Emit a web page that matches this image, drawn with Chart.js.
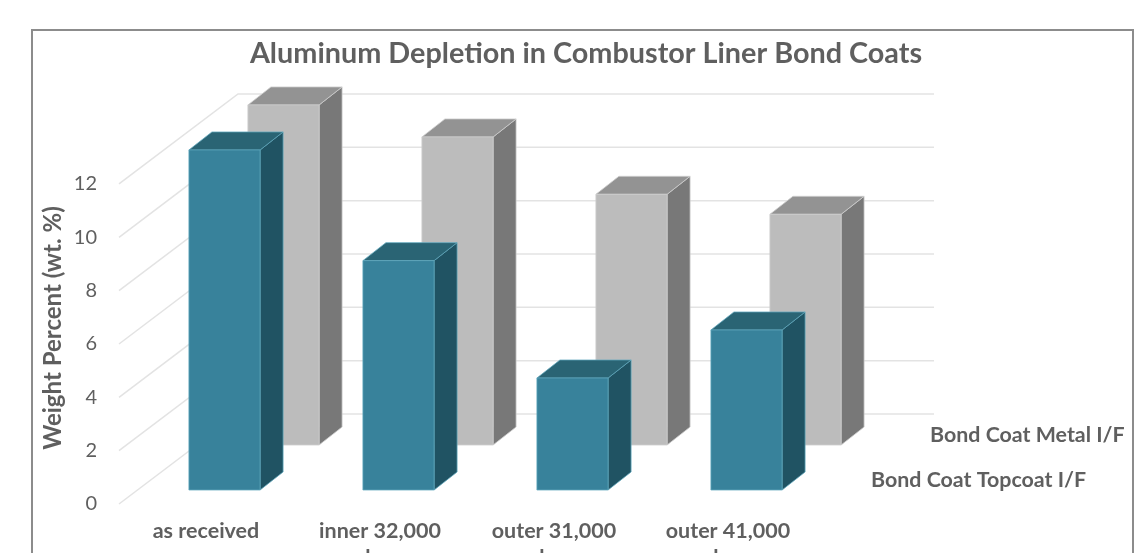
<!DOCTYPE html>
<html>
<head>
<meta charset="utf-8">
<style>
html,body{margin:0;padding:0;background:#fff;overflow:hidden}
#wrap{width:1144px;height:553px}
</style>
<script src="https://cdn.jsdelivr.net/npm/chart.js@4"></script>
</head>
<body>
<div id="wrap"><canvas id="c" width="1144" height="553"></canvas></div>
<script>
const chartTitle = "Aluminum Depletion in Combustor Liner Bond Coats";
const yAxisTitle = "Weight Percent (wt. %)";
const categories = [["as received"], ["inner 32,000", "hrs"], ["outer 31,000", "hrs"], ["outer 41,000", "hrs"]];
const topcoatLabel = "Bond Coat Topcoat I/F";
const metalLabel = "Bond Coat Metal I/F";
const topcoatValues = [12.75, 8.6, 4.2, 6.0];
const metalValues = [12.75, 11.55, 9.4, 8.65];
const yTicks = [0, 2, 4, 6, 8, 10, 12];

const TEXT = "#5f5f5f";
const FONT = "Lato";

// Oblique projection: how far the back wall sits from the front plane,
// where each series row stands, and how deep one bar is.
const WALL = {dx: 119, dy: -90};
const BAR_DEPTH = {dx: 23, dy: -18};

const prism = {
  id: "prism",
  beforeDraw(chart) {
    const {ctx, width, height} = chart;
    ctx.save();
    ctx.fillStyle = "#fff";
    ctx.fillRect(0, 0, width, height);
    ctx.strokeStyle = "#8c8c8c";
    ctx.lineWidth = 2;
    ctx.strokeRect(32, 30, 1101, 560);
    ctx.restore();
  },
  beforeDatasetsDraw(chart) {
    // Side wall and back wall grid lines, one per axis tick.
    const {ctx, scales: {x, y}} = chart;
    ctx.save();
    ctx.strokeStyle = "#e3e3e3";
    ctx.lineWidth = 1.5;
    yTicks.forEach(v => {
      const py = y.getPixelForValue(v);
      ctx.beginPath();
      ctx.moveTo(x.left, py);
      ctx.lineTo(x.left + WALL.dx, py + WALL.dy);
      ctx.lineTo(x.right + WALL.dx, py + WALL.dy);
      ctx.stroke();
    });
    ctx.restore();
  },
  beforeDatasetDraw(chart, args) {
    // Replace the flat rectangles with extruded boxes.
    const {ctx} = chart;
    const ds = chart.data.datasets[args.index];
    const {dx, dy} = ds.row;
    ctx.save();
    args.meta.data.forEach(el => {
      const {x, y, base, width} = el.getProps(["x", "y", "base", "width"], true);
      const l = x - width / 2 + dx, r = x + width / 2 + dx;
      const t = y + dy, b = base + dy;
      const ox = BAR_DEPTH.dx, oy = BAR_DEPTH.dy;
      const face = (pts, fill) => {
        ctx.beginPath();
        pts.forEach((p, i) => i ? ctx.lineTo(p[0], p[1]) : ctx.moveTo(p[0], p[1]));
        ctx.closePath();
        ctx.fillStyle = fill;
        ctx.fill();
        ctx.strokeStyle = ds.edgeColor;
        ctx.lineWidth = 1;
        ctx.stroke();
      };
      face([[r, t], [r + ox, t + oy], [r + ox, b + oy], [r, b]], ds.sideColor);
      face([[l, t], [l + ox, t + oy], [r + ox, t + oy], [r, t]], ds.topColor);
      face([[l, t], [r, t], [r, b], [l, b]], ds.backgroundColor);
    });
    ctx.restore();
    return false;
  },
  afterDraw(chart) {
    const {ctx, scales: {x, y}} = chart;
    ctx.save();
    // Vertical axis title
    ctx.fillStyle = TEXT;
    ctx.font = "bold 24px " + FONT;
    ctx.textAlign = "center";
    ctx.textBaseline = "middle";
    ctx.translate(53, 328);
    ctx.rotate(-Math.PI / 2);
    ctx.fillText(yAxisTitle, 0, 0);
    ctx.restore();
    // Series names on the depth axis, beside each row
    ctx.save();
    ctx.fillStyle = TEXT;
    ctx.font = "bold 21.4px " + FONT;
    ctx.textBaseline = "middle";
    ctx.textAlign = "left";
    chart.data.datasets.forEach(ds => {
      ctx.fillText(ds.label, x.right + ds.nameAt.dx, y.bottom + ds.nameAt.dy);
    });
    ctx.restore();
  }
};

new Chart(document.getElementById("c"), {
  type: "bar",
  plugins: [prism],
  data: {
    labels: categories,
    datasets: [
      {label: topcoatLabel, data: topcoatValues, backgroundColor: "#38829b",
       topColor: "#2a6474", sideColor: "#205363", edgeColor: "rgba(96,168,190,0.75)",
       row: {dx: 18.5, dy: -14}, nameAt: {dx: 56, dy: -24}},
      {label: metalLabel, data: metalValues, backgroundColor: "#bcbcbc",
       topColor: "#939393", sideColor: "#787878", edgeColor: "rgba(205,205,205,0.8)",
       row: {dx: 77.5, dy: -59}, nameAt: {dx: 115, dy: -69}}
    ]
  },
  options: {
    responsive: false,
    animation: false,
    layout: {padding: {left: 28, right: 0, top: 0, bottom: 0}},
    datasets: {bar: {grouped: false, barPercentage: 0.409, categoryPercentage: 1}},
    plugins: {
      legend: {display: false},
      tooltip: {enabled: false},
      title: {
        display: true,
        text: chartTitle,
        color: TEXT,
        font: {family: FONT, size: 28.8, weight: "bold", lineHeight: 1.2},
        padding: {top: 36, bottom: 113.4}
      }
    },
    scales: {
      x: {
        grid: {display: false},
        border: {display: false},
        ticks: {color: TEXT, font: {family: FONT, size: 21.5, weight: "bold", lineHeight: 1.25},
                padding: 5.6, maxRotation: 0, autoSkip: false},
        afterFit(s) { s.height = 49; }
      },
      y: {
        min: 0,
        max: 12,
        grid: {display: false, drawTicks: false},
        border: {display: false},
        afterBuildTicks(s) { s.ticks = yTicks.map(value => ({value})); },
        ticks: {color: TEXT, font: {family: FONT, size: 20}, padding: 22},
        afterFit(s) { s.width = 91; }
      },
      depthSpace: {
        position: "right",
        display: true,
        grid: {display: false},
        border: {display: false},
        ticks: {display: false},
        afterFit(s) { s.width = 329; }
      }
    }
  }
});
</script>
</body>
</html>
